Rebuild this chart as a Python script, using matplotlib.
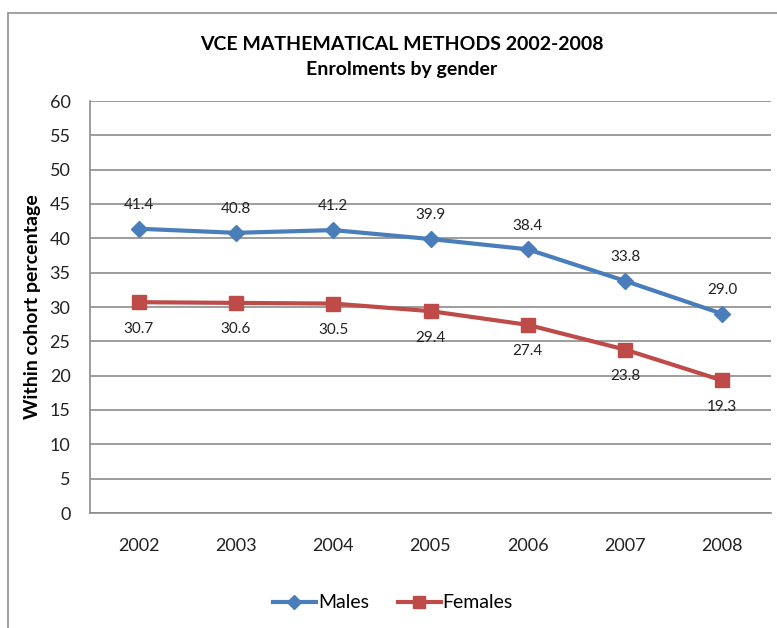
import matplotlib.pyplot as plt
from matplotlib.patches import Rectangle
from matplotlib.lines import Line2D

years = ['2002', '2003', '2004', '2005', '2006', '2007', '2008']
males = [41.4, 40.8, 41.2, 39.9, 38.4, 33.8, 29.0]
females = [30.7, 30.6, 30.5, 29.4, 27.4, 23.8, 19.3]

blue = '#4A7EBB'
red = '#BE4B48'
grid_col = '#8c8c8c'

plt.rcParams['font.family'] = ['Lato', 'DejaVu Sans']

W, H = 777, 628
fig = plt.figure(figsize=(W / 100, H / 100), dpi=100)

# outer chart frame (runs off the right/bottom edge like the screenshot)
fig.patches.append(Rectangle((8 / W, -0.1), 1.2, 1 - 13 / H + 0.1,
                             transform=fig.transFigure, fill=False,
                             edgecolor='#9a9a9a', linewidth=1.3))

ax = fig.add_axes([90 / W, 1 - 513 / H, (771 - 90) / W, (513 - 101) / H])
x = range(len(years))

ax.plot(x, males, color=blue, lw=3, marker='D', ms=8, label='Males')
ax.plot(x, females, color=red, lw=3, marker='s', ms=10, label='Females')

for i, v in enumerate(males):
    ax.annotate(f'{v:.1f}', (i, v), xytext=(0, 12), textcoords='offset points',
                ha='center', va='bottom', fontsize=11, color='#222222')
for i, v in enumerate(females):
    ax.annotate(f'{v:.1f}', (i, v), xytext=(0, -14), textcoords='offset points',
                ha='center', va='top', fontsize=11, color='#222222')

ax.set_xlim(-0.5, len(years) - 0.5)
ax.set_ylim(0, 60)
ax.set_yticks(range(0, 61, 5))
ax.set_xticks(list(x))
ax.set_xticklabels(years)
ax.tick_params(axis='both', length=0, labelsize=13, colors='#222222')
ax.tick_params(axis='x', pad=18)
ax.tick_params(axis='y', pad=14)
ax.grid(axis='y', color=grid_col, lw=1.2)
ax.set_axisbelow(True)
for s in ['top', 'right']:
    ax.spines[s].set_visible(False)
for s in ['left', 'bottom']:
    ax.spines[s].set_color(grid_col)
    ax.spines[s].set_linewidth(1.2)

ax.set_ylabel('Within cohort percentage', fontsize=14, fontweight='bold',
              labelpad=6)

fig.text(402 / W, 1 - 45 / H, 'VCE MATHEMATICAL METHODS 2002-2008',
         ha='center', va='center', fontsize=14, fontweight='bold')
fig.text(402 / W, 1 - 70 / H, 'Enrolments by gender',
         ha='center', va='center', fontsize=14, fontweight='bold')

handles = [Line2D([], [], color=blue, lw=3, marker='D', ms=7),
           Line2D([], [], color=red, lw=3, marker='s', ms=9)]
fig.legend(handles, ['Males', 'Females'], loc='center',
           bbox_to_anchor=(393 / W, 1 - 603 / H), ncol=2, frameon=False,
           fontsize=14, handlelength=2.2, handletextpad=0.1,
           columnspacing=1.5)

fig.savefig('out.png', dpi=100)
